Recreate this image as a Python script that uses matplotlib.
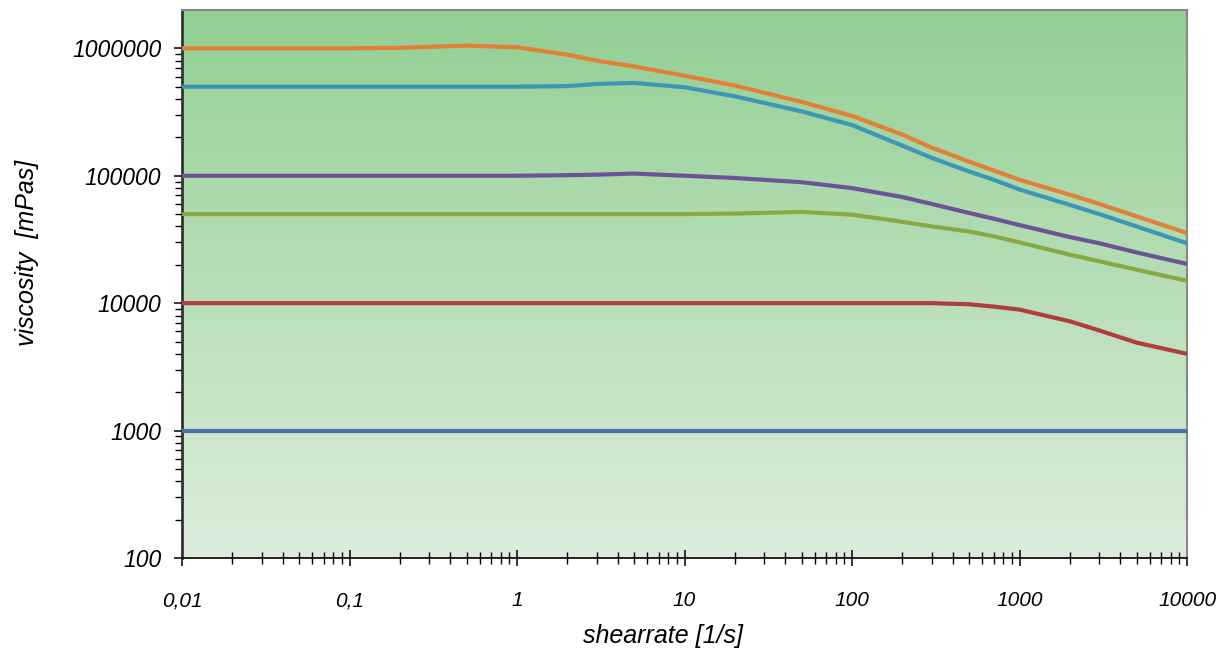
"""Flow curves: viscosity vs. shear rate (log-log) on a green gradient background."""

import matplotlib.pyplot as plt
import numpy as np
from matplotlib.colors import LinearSegmentedColormap
from matplotlib.ticker import FixedLocator, NullFormatter

plt.rcParams["font.family"] = ["Liberation Sans", "DejaVu Sans"]

# shear rate points [1/s]
shear_rate = [0.01, 0.1, 0.2, 0.5, 1, 2, 3, 5, 10, 20, 50, 100, 200, 300, 500, 700,
              1000, 2000, 3000, 5000, 10000]

# viscosity [mPas]
visc_orange = [1.0e6, 1.0e6, 1.01e6, 1.05e6, 1.02e6, 8.9e5, 8.0e5, 7.2e5, 6.1e5, 5.1e5, 3.8e5,
               2.95e5, 2.1e5, 1.66e5, 1.29e5, 1.1e5, 9.3e4, 7.1e4, 6.0e4, 4.8e4, 3.55e4]
visc_teal = [5.0e5, 5.0e5, 5.0e5, 5.0e5, 5.0e5, 5.05e5, 5.25e5, 5.35e5, 4.95e5, 4.2e5, 3.2e5,
             2.5e5, 1.72e5, 1.38e5, 1.08e5, 9.3e4, 7.8e4, 5.9e4, 5.0e4, 4.0e4, 2.95e4]
visc_purple = [1.0e5, 1.0e5, 1.0e5, 1.0e5, 1.0e5, 1.01e5, 1.02e5, 1.04e5, 1.0e5, 9.6e4, 8.9e4,
               8.0e4, 6.8e4, 6.0e4, 5.1e4, 4.6e4, 4.1e4, 3.3e4, 2.95e4, 2.5e4, 2.03e4]
visc_green = [5.0e4, 5.0e4, 5.0e4, 5.0e4, 5.0e4, 5.0e4, 5.0e4, 5.0e4, 5.0e4, 5.05e4, 5.2e4,
              4.95e4, 4.35e4, 4.0e4, 3.65e4, 3.35e4, 3.0e4, 2.4e4, 2.13e4, 1.83e4, 1.5e4]
visc_red = [1.0e4, 1.0e4, 1.0e4, 1.0e4, 1.0e4, 1.0e4, 1.0e4, 1.0e4, 1.0e4, 1.0e4, 1.0e4,
            1.0e4, 1.0e4, 1.0e4, 9.8e3, 9.4e3, 8.9e3, 7.2e3, 6.1e3, 4.9e3, 4.0e3]
visc_blue = [1.0e3] * len(shear_rate)

series = [
    (visc_blue, "#4472A8"),
    (visc_red, "#AE3F3D"),
    (visc_green, "#87A843"),
    (visc_purple, "#6C5396"),
    (visc_teal, "#3E95B5"),
    (visc_orange, "#E27F38"),
]

x_ticks = [0.01, 0.1, 1, 10, 100, 1000, 10000]
x_labels = ["0,01", "0,1", "1", "10", "100", "1000", "10000"]
y_ticks = [100, 1000, 10000, 100000, 1000000]
y_labels = ["100", "1000", "10000", "100000", "1000000"]

fig = plt.figure(figsize=(12.24, 6.52), dpi=100)
ax = fig.add_axes([0.1487, 0.1442, 0.8211, 0.8405])
ax.set_xscale("log")
ax.set_yscale("log")
ax.set_xlim(0.01, 10000)
ax.set_ylim(100, 2e6)

# vertical green gradient behind the curves (light at the bottom, darker at the top)
grad = LinearSegmentedColormap.from_list("bg", ["#DDEDDC", "#92CF93"])
ax.imshow(np.linspace(0, 1, 256).reshape(-1, 1), cmap=grad, aspect="auto", origin="lower",
          extent=[0, 1, 0, 1], transform=ax.transAxes, zorder=0)

for vals, color in series:
    ax.plot(shear_rate, vals, color=color, linewidth=3.0, solid_capstyle="butt",
            solid_joinstyle="round", zorder=3)

# ticks
ax.xaxis.set_major_locator(FixedLocator(x_ticks))
ax.set_xticklabels(x_labels)
ax.xaxis.set_minor_locator(FixedLocator(
    [m * 10.0**e for e in range(-2, 4) for m in range(2, 10)]))
ax.xaxis.set_minor_formatter(NullFormatter())
ax.yaxis.set_major_locator(FixedLocator(y_ticks))
ax.set_yticklabels(y_labels)
ax.yaxis.set_minor_locator(FixedLocator(
    [m * 10.0**e for e in range(2, 7) for m in range(2, 10) if m * 10.0**e < 2e6]))
ax.yaxis.set_minor_formatter(NullFormatter())

ax.tick_params(axis="x", which="major", direction="inout", length=12, width=1.1,
               pad=18, labelsize=15)
ax.tick_params(axis="x", which="minor", direction="inout", length=8, width=1.0)
ax.tick_params(axis="y", which="major", direction="out", length=6, width=1.1,
               pad=9, labelsize=16.5)
ax.tick_params(axis="y", which="minor", direction="out", length=5, width=1.0)
for lbl in ax.get_xticklabels() + ax.get_yticklabels():
    lbl.set_fontstyle("italic")

ax.spines["left"].set_color("#333333")
ax.spines["left"].set_linewidth(2.0)
ax.spines["bottom"].set_color("#111111")
ax.spines["bottom"].set_linewidth(1.3)
for side in ("top", "right"):
    ax.spines[side].set_color("#888888")
    ax.spines[side].set_linewidth(1.5)

ax.set_ylabel("viscosity  [mPas]", fontsize=18, style="italic")
ax.yaxis.set_label_coords(-0.142, 0.556)
ax.set_xlabel("shearrate [1/s]", fontsize=18, style="italic", va="center")
ax.xaxis.set_label_coords(0.479, -0.143)

fig.savefig("out.png", dpi=100, facecolor="white")
